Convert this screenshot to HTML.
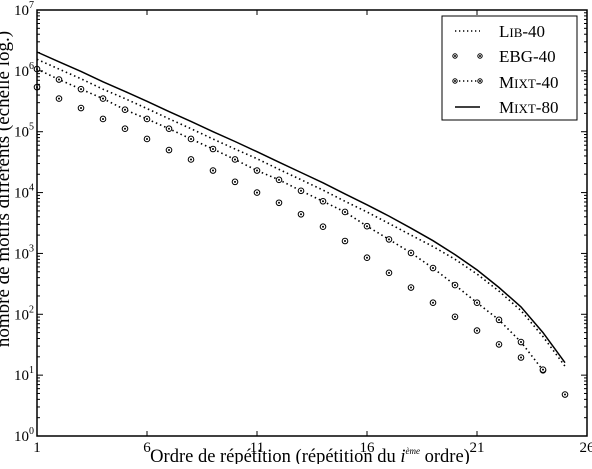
<!DOCTYPE html>
<html><head><meta charset="utf-8"><style>
body{margin:0;background:#fff;width:592px;height:464px;overflow:hidden}
svg text{font-family:"Liberation Serif",serif;fill:#000}
</style></head><body>
<svg id="chart" width="592" height="464" viewBox="0 0 592 464" xmlns="http://www.w3.org/2000/svg">
<g id="plot"></g>
<g id="axes"></g>
<text x="310" y="462" font-size="18.5" text-anchor="middle">Ordre de répétition (répétition du <tspan font-style="italic">i</tspan><tspan font-size="9" dy="-8" font-style="italic">ème</tspan><tspan dy="8"> ordre)</tspan></text>
<text transform="translate(9,189) rotate(-90)" font-size="19" text-anchor="middle">nombre de motifs différents (échelle log.)</text>
<g>
<rect x="442" y="16" width="135" height="104" fill="#fff" stroke="#000" stroke-width="1"/>
<g><line x1="455" y1="31" x2="480" y2="31" stroke="#000" stroke-width="1.4" stroke-dasharray="1.3,2.7"/><text x="499" y="37" font-size="17">L<tspan font-size="13">IB</tspan>-40</text></g>
<g><g id="lm1"></g><text x="499" y="62" font-size="17">EBG-40</text></g>
<g><line x1="455" y1="81" x2="480" y2="81" stroke="#000" stroke-width="1.4" stroke-dasharray="1.3,2.7"/><g id="lm2"></g><text x="499" y="88" font-size="17">M<tspan font-size="13">IXT</tspan>-40</text></g>
<g><line x1="455" y1="107" x2="480" y2="107" stroke="#000" stroke-width="1.5"/><text x="499" y="113" font-size="17">M<tspan font-size="13">IXT</tspan>-80</text></g>
</g>
</svg>
<script>
const orders=[1,2,3,4,5,6,7,8,9,10,11,12,13,14,15,16,17,18,19,20,21,22,23,24,25];
const mixt80=[2.04e6,1.41e6,9.8e5,6.6e5,4.6e5,3.16e5,2.14e5,1.48e5,1.0e5,6.9e4,4.7e4,3.16e4,2.14e4,1.45e4,9.5e3,6.3e3,4.1e3,2.6e3,1.62e3,955,537,275,132,50,16];
const lib40=[1.55e6,1.07e6,7.4e5,5.0e5,3.5e5,2.4e5,1.63e5,1.12e5,7.6e4,5.2e4,3.6e4,2.4e4,1.63e4,1.1e4,7.2e3,4.8e3,3.1e3,2.0e3,1.3e3,800,460,240,115,43,14];
const mixt40=[1.07e6,7.2e5,5.0e5,3.5e5,2.3e5,1.62e5,1.12e5,7.6e4,5.2e4,3.5e4,2.3e4,1.62e4,1.07e4,7.2e3,4.8e3,2.8e3,1.7e3,1.02e3,575,302,155,81,35,12];
const ebg40=[5.4e5,3.5e5,2.45e5,1.62e5,1.12e5,7.6e4,5.0e4,3.5e4,2.3e4,1.5e4,1.0e4,6.8e3,4.4e3,2.75e3,1.6e3,850,480,275,155,91,54,32,19.5,12.3,4.8];
const xTicks=[1,6,11,16,21,26];
const yTicks=[0,1,2,3,4,5,6,7];
const X0=37,X1=587,Y0=436,Y1=10;
const NS="http://www.w3.org/2000/svg";
function sx(v){return X0+(v-1)/25*(X1-X0);}
function sy(v){return Y0-Math.log10(v)/7*(Y0-Y1);}
function mk(tag,at,parent){const e=document.createElementNS(NS,tag);for(const k in at)e.setAttribute(k,at[k]);parent.appendChild(e);return e;}
const plot=document.getElementById('plot'),axes=document.getElementById('axes');
function line(vals,dash,name){
 const d=vals.map((v,i)=>(i?'L':'M')+sx(orders[i]).toFixed(1)+','+sy(v).toFixed(1)).join(' ');
 const p=mk('path',{d:d,fill:'none',stroke:'#000','stroke-width':dash?1.6:1.5,'stroke-dasharray':dash?'1.5,3':'none'},plot);
 
 
}
function marker(x,y,parent,name,r){
 const g=mk('g',{},parent);
 
 
 mk('circle',{cx:x,cy:y,r:r||2.8,fill:'#fff',stroke:'#000','stroke-width':1},g);
 mk('circle',{cx:x,cy:y,r:1,fill:'#000'},g);
}
line(lib40,true,'line-lib40');
line(mixt40,true,'line-mixt40');
line(mixt80,false,'line-mixt80');
mixt40.forEach((v,i)=>marker(sx(orders[i]),sy(v),plot,'point-mixt40'));
ebg40.forEach((v,i)=>marker(sx(orders[i]),sy(v),plot,'point-ebg40'));
marker(455,56,document.getElementById('lm1'),'legend-marker-ebg40',2.2);
marker(480,56,document.getElementById('lm1'),'legend-marker-ebg40',2.2);
marker(455,81,document.getElementById('lm2'),'legend-marker-mixt40',2.2);
marker(480,81,document.getElementById('lm2'),'legend-marker-mixt40',2.2);
const fr=mk('rect',{x:X0,y:Y1,width:X1-X0,height:Y0-Y1,fill:'none',stroke:'#000','stroke-width':1.5},axes);


xTicks.forEach(t=>{
 const x=sx(t);
 mk('line',{x1:x,y1:Y0,x2:x,y2:Y0-5,stroke:'#000'},axes);
 mk('line',{x1:x,y1:Y1,x2:x,y2:Y1+5,stroke:'#000'},axes);
 const tx=mk('text',{x:x,y:Y0+16,'font-size':15,'text-anchor':'middle'},axes);
 tx.textContent=t;
 
 
});
yTicks.forEach(t=>{
 const y=sy(Math.pow(10,t));
 mk('line',{x1:X0,y1:y,x2:X0+6,y2:y,stroke:'#000'},axes);
 mk('line',{x1:X1,y1:y,x2:X1-6,y2:y,stroke:'#000'},axes);
 if(t<7)for(let m=2;m<10;m++){const yy=sy(m*Math.pow(10,t));
  mk('line',{x1:X0,y1:yy,x2:X0+3,y2:yy,stroke:'#000'},axes);
  mk('line',{x1:X1,y1:yy,x2:X1-3,y2:yy,stroke:'#000'},axes);}
 const tx=mk('text',{x:X0-3,y:y+5,'font-size':15,'text-anchor':'end'},axes);
 tx.innerHTML='10<tspan font-size="10" dy="-7">'+t+'</tspan>';
 
 
});
</script>
</body></html>
